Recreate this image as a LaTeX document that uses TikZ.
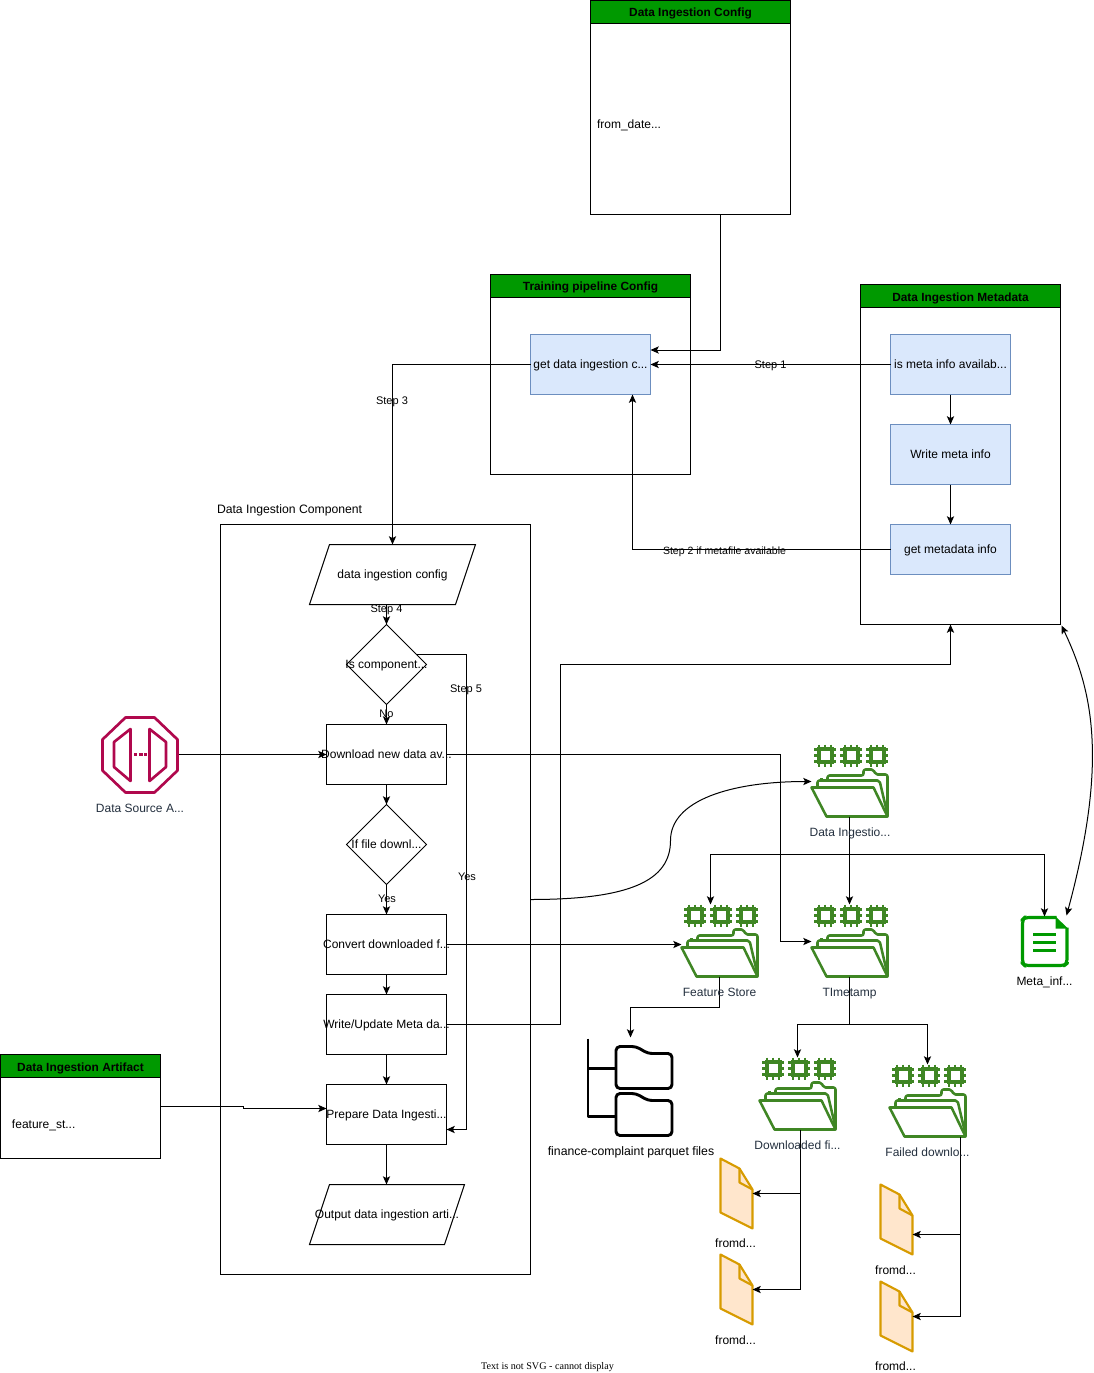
\documentclass[tikz,border=0pt]{standalone}
\usepackage{fontspec}
\setmainfont{Liberation Sans}
\newfontfamily\serifnote{Liberation Serif}
\usetikzlibrary{arrows.meta,shapes.geometric}
\definecolor{hdrgreen}{HTML}{009900}
\definecolor{bluefill}{HTML}{DAE8FC}
\definecolor{bluedraw}{HTML}{6C8EBF}
\definecolor{awsgreen}{HTML}{3F8624}
\definecolor{awspink}{HTML}{B0084D}
\definecolor{awsgrey}{HTML}{232F3E}
\definecolor{docfill}{HTML}{FFE6CC}
\definecolor{docdraw}{HTML}{D79B00}
\newcommand{\ct}[1]{\makebox[0pt]{#1}}
\tikzset{
  x=0.75pt,y=-0.75pt,
  every node/.style={inner sep=0pt,outer sep=0pt,text height=7.5pt,text depth=2pt,font=\fontsize{9pt}{11pt}\selectfont},
  conn/.style={draw=black,line width=0.75pt,-{Stealth[length=6.2pt,width=5.4pt,inset=1.4pt]}},
  plainconn/.style={draw=black,line width=0.75pt},
  frame/.style={draw=black,line width=0.75pt,anchor=north west,minimum width=150pt},
  header/.style={frame,fill=hdrgreen,minimum height=17.25pt,text height=9.5pt,font=\fontsize{8.9pt}{11pt}\selectfont\bfseries},
  bluebox/.style={draw=bluedraw,fill=bluefill,line width=0.75pt,anchor=north west,minimum width=90pt,minimum height=45pt},
  stepbox/.style={draw=black,line width=0.75pt,anchor=north west,minimum width=90pt,minimum height=45pt},
  decision/.style={diamond,draw=black,line width=0.75pt,aspect=1,minimum width=60pt,minimum height=60pt},
  iodata/.style={minimum height=45pt},
  ioline/.style={draw=black,line width=0.75pt,line join=miter},
  iconbox/.style={anchor=north west,minimum width=57pt,minimum height=54pt},
  docbox/.style={anchor=north west,minimum width=24pt,minimum height=52.5pt},
  edgetext/.style={font=\fontsize{8.25pt}{10pt}\selectfont},
  icontext/.style={text=awsgrey},
  green line/.style={draw=awsgreen,line width=1.9pt,line join=round},
}
\newcommand{\storefolder}[3]{%
  \node[iconbox] (#1) at (#2,#3) {};
  \begin{scope}[shift={(#2,#3)}]
    \foreach \cx in {13.5,39.5,65.5}{
      \begin{scope}[shift={(\cx,11)}]
        \draw[draw=awsgreen,line width=3pt] (-6.5,-6.5) rectangle (6.5,6.5);
        \foreach \p in {-6,0,6}{
          \draw[draw=awsgreen,line width=1.6pt] (\p,-11) -- (\p,-8) (\p,8) -- (\p,11) (-11,\p) -- (-8,\p) (8,\p) -- (11,\p);
        }
      \end{scope}
    }
    \draw[green line,rounded corners=1.5pt] (16,36) -- (16,31) -- (52,31) -- (52,25) -- (62,25) -- (64,30) -- (76,30) -- (76,72);
    \draw[green line,rounded corners=1.5pt] (6,42) -- (6,36) -- (68,36) -- (76,70);
    \draw[green line] (10,36) -- (10,33);
    \draw[green line,fill=white] (0,43) -- (15,72) -- (76,72) -- (62,43) -- cycle;
  \end{scope}
}
\newcommand{\orangedoc}[3]{%
  \node[docbox] (#1) at (#2,#3) {};
  \begin{scope}[shift={(#2,#3)}]
    \draw[draw=docdraw,fill=docfill,line width=1.6pt,line join=round] (0,0) -- (19,10) -- (32,31) -- (32,70) -- (0,54) -- cycle;
    \draw[draw=docdraw,line width=1.6pt,line join=round] (19,10) -- (19,24) -- (32,31);
  \end{scope}
}
\newcommand{\plainfolder}[2]{%
  \draw[draw=black,line width=2.2pt,line join=round,rounded corners=3pt] (#1,#2+42) -- (#1,#2) -- (#1+20,#2) -- (#1+32,#2+7) -- (#1+56,#2+7) -- (#1+56,#2+42) -- cycle;
}
\begin{document}
\begin{tikzpicture}
\useasboundingbox (0,0) rectangle (1094,1373);
\begin{scope}[shift={(0.5,0.5)}]
% frames
\node[frame,minimum height=160.5pt] (cfgframe) at (590,0) {};
\node[header] (cfghead) at (590,0) {Data Ingestion Config};
\node[frame,minimum height=150pt] (tpframe) at (490,274) {};
\node[header] (tphead) at (490,274) {Training pipeline Config};
\node[frame,minimum height=255pt] (mdframe) at (860,284) {};
\node[header] (mdhead) at (860,284) {Data Ingestion Metadata};
\node[frame,minimum width=120pt,minimum height=78pt] (artframe) at (0,1054) {};
\node[header,minimum width=120pt] (arthead) at (0,1054) {Data Ingestion Artifact};
\node[frame,minimum width=232.5pt,minimum height=562.5pt] (compframe) at (220,524) {};
% blue boxes
\node[bluebox] (getcfg) at (530,334) {\ct{get data ingestion c...}};
\node[bluebox] (ismeta) at (890,334) {\ct{is meta info availab...}};
\node[bluebox] (writemeta) at (890,424) {\ct{Write meta info}};
\node[bluebox,minimum height=37.5pt] (getmeta) at (890,524) {\ct{get metadata info}};
% flow
\draw[ioline] (329,544) -- (475,544) -- (455,604) -- (309,604) -- cycle;
\node[iodata,minimum width=124.5pt] (dic) at (392,574) {\ct{data ingestion config}};
\node[decision] (iscomp) at (386,664) {\ct{Is component...}};
\node[stepbox] (download) at (326,724) {\ct{Download new data av...}};
\node[decision] (iffile) at (386,844) {\ct{If file downl...}};
\node[stepbox] (convert) at (326,914) {\ct{Convert downloaded f...}};
\node[stepbox] (writeupd) at (326,994) {\ct{Write/Update Meta da...}};
\node[stepbox] (prepare) at (326,1084) {\ct{Prepare Data Ingesti...}};
\draw[ioline] (329,1184) -- (464,1184) -- (444,1244) -- (309,1244) -- cycle;
\node[iodata,minimum width=116.25pt] (output) at (386.5,1214) {\ct{Output data ingestion arti...}};
% source icon
\node[anchor=north west,minimum width=58.5pt,minimum height=58.5pt] (source) at (100,715) {};
\draw[draw=awspink,line width=2pt,line join=round] (125,717) -- (154,717) -- (177,739) -- (177,770) -- (154,792) -- (125,792) -- (102,770) -- (102,739) -- cycle;
\draw[draw=awspink,line width=2pt,line join=round] (130,728.5) -- (113.5,741.5) -- (113.5,766.5) -- (130,780.5) -- cycle;
\draw[draw=awspink,line width=2pt,line join=round] (149,728.5) -- (165.5,741.5) -- (165.5,766.5) -- (149,780.5) -- cycle;
\draw[draw=awspink,line width=2.2pt,dash pattern=on 2.5pt off 1.4pt] (133.5,754) -- (146,754);
% storage icons
\storefolder{ingfolder}{811}{744}
\storefolder{feature}{681}{904}
\storefolder{timestamp}{811}{904}
\storefolder{downloaded}{759}{1057}
\storefolder{failed}{889}{1064}
% meta document
\node[anchor=north west,minimum width=35.25pt,minimum height=37.5pt] (metadoc) at (1020.5,916) {};
\draw[draw=hdrgreen,line width=2.3pt,line join=round,rounded corners=3pt] (1056,917) -- (1024,917) -- (1022,919) -- (1022,963) -- (1024,965) -- (1064,965) -- (1066.5,963) -- (1066.5,927);
\fill[hdrgreen] (1055,916) -- (1067.5,928) -- (1055,928) -- cycle;
\draw[draw=hdrgreen,line width=2.5pt] (1032.5,934) -- (1055,934) (1032.5,941.7) -- (1055,941.7) (1032.5,950) -- (1055,950);
% parquet folders
\node[anchor=north west,minimum width=65pt,minimum height=73pt] (parquet) at (587,1037) {};
\draw[draw=black,line width=2.2pt,line join=round] (587.5,1038) -- (587.5,1116) -- (615,1116) (587.5,1068) -- (615,1068);
\plainfolder{615.5}{1046}
\plainfolder{615.5}{1093}
% orange docs
\orangedoc{docA}{720}{1158}
\orangedoc{docB}{720}{1254}
\orangedoc{docC}{880}{1184}
\orangedoc{docD}{880}{1281}
% free points
\coordinate (cfgdrop) at (720,214);
\coordinate (getcfgtop) at (650,349.5);
\coordinate (step2in) at (632,394);
\coordinate (busA) at (780,754);
\coordinate (busAend) at (811,941);
\coordinate (step5out) at (416,654);
\coordinate (prepin) at (446,1129);
\coordinate (curvein) at (530,899);
\coordinate (curvemid) at (670,840);
\coordinate (curveout) at (811,781);
\coordinate (meta950) at (950,624);
\coordinate (busB) at (849,854);
\coordinate (fsin) at (710,904);
\coordinate (mdcorner) at (1061,625);
\coordinate (docin) at (1066,915);
\coordinate (pqhook) at (630,1007);
\coordinate (pqin) at (630,1037);
\coordinate (tsbus) at (849,1024);
\coordinate (artout) at (160,1106);
\coordinate (artin) at (326,1108);
\coordinate (dlout) at (800,1129);
\coordinate (flout) at (960,1136);
% connectors
\draw[conn] (cfgdrop) |- (getcfgtop);
\draw[conn] (ismeta.west) -- (getcfg.east);
\draw[conn] (ismeta.south) -- (writemeta.north);
\draw[conn] (writemeta.south) -- (getmeta.north);
\draw[conn] (getmeta.west) -| (step2in);
\draw[conn] (getcfg.west) -| (dic.north);
\draw[conn] (dic.south -| iscomp.north) -- (iscomp.north);
\draw[conn] (iscomp.south) -- (download.north);
\draw[conn] (step5out) -- (466,654) -- (466,1129) -- (prepin);
\draw[conn] (source.east) -- (download.west);
\draw[conn] (download.east) -- (busA) -- (busA |- busAend) -- (busAend);
\draw[conn] (download.south) -- (iffile.north);
\draw[conn] (iffile.south) -- (convert.north);
\draw[conn] (convert.east) -- (convert.east -| feature.west);
\draw[conn] (convert.south) -- (writeupd.north);
\draw[conn] (writeupd.south) -- (prepare.north);
\draw[conn] (prepare.south) -- (prepare.south |- output.north);
\draw[conn] (writeupd.east) -- (560,1024) -- (560,664) -- (950,664) -- (meta950);
\draw[conn] (curvein) .. controls (630,899) and (670,880) .. (curvemid) .. controls (670,800) and (730,781) .. (curveout);
\draw[conn] (ingfolder.south) -- (timestamp.north);
\draw[conn] (busB) -- (710,854) -- (fsin);
\draw[conn] (busB) -- (1044,854) -- (metadoc.north -| 1044,0);
\draw[conn,{Stealth[length=6.2pt,width=5.4pt,inset=1.4pt]}-{Stealth[length=6.2pt,width=5.4pt,inset=1.4pt]}] (mdcorner) .. controls (1092,690) and (1108,760) .. (docin);
\draw[conn] (feature.south) |- (pqhook) -- (pqin);
\draw[plainconn] (timestamp.south) -- (tsbus);
\draw[conn] (tsbus) -| (downloaded.north);
\draw[conn] (tsbus) -| (failed.north);
\draw[conn] (artout) -- (243,1106) -- (243,1108) -- (artin);
\draw[plainconn] (dlout) -- (800,1289);
\draw[conn] (800,1193) -- (752,1193);
\draw[conn] (800,1289) -- (752,1289);
\draw[plainconn] (flout) -- (960,1316);
\draw[conn] (960,1234) -- (912,1234);
\draw[conn] (960,1316) -- (912,1316);
% texts
\node[anchor=west] (fromdate) at (596.5,124) {from\_date...};
\node[anchor=west] (featst) at (11.5,1124) {feature\_st...};
\node[anchor=west,font=\fontsize{9.15pt}{11pt}\selectfont] (comptitle) at (216.5,509) {Data Ingestion Component};
\node[edgetext] (step1) at (770,364) {Step 1};
\node[edgetext,font=\fontsize{7.9pt}{10pt}\selectfont] (step2) at (724,550) {Step 2 if metafile available};
\node[edgetext] (step3) at (391.5,400) {Step 3};
\node[edgetext] (step4) at (386,608) {Step 4};
\node[edgetext] (step5) at (465.5,688) {Step 5};
\node[edgetext] (lblno) at (386,713.5) {No};
\node[edgetext] (lblyes) at (386.5,898) {Yes};
\node[edgetext] (lblyes2) at (466.5,876) {Yes};
\node[icontext] (srclbl) at (139.5,808) {Data Source A...};
\node[icontext] (inglbl) at (849.5,832) {Data Ingestio...};
\node[icontext] (fslbl) at (719,992) {Feature Store};
\node[icontext] (tslbl) at (849,992) {TImetamp};
\node[icontext] (dllbl) at (797,1145) {Downloaded fi...};
\node[icontext] (fllbl) at (927,1152) {Failed downlo...};
\node (metalbl) at (1044,981.5) {Meta\_inf...};
\node[font=\fontsize{9.2pt}{11pt}\selectfont] (pqlbl) at (630.5,1151.5) {finance-complaint parquet files};
\node (lblA) at (735,1243.5) {fromd...};
\node (lblB) at (735,1340.5) {fromd...};
\node (lblC) at (895,1270.5) {fromd...};
\node (lblD) at (895,1366.5) {fromd...};
\node[font=\fontsize{7.6pt}{9pt}\selectfont\serifnote] (svgnote) at (547,1365) {Text is not SVG - cannot display};
\end{scope}
\end{tikzpicture}
\end{document}
